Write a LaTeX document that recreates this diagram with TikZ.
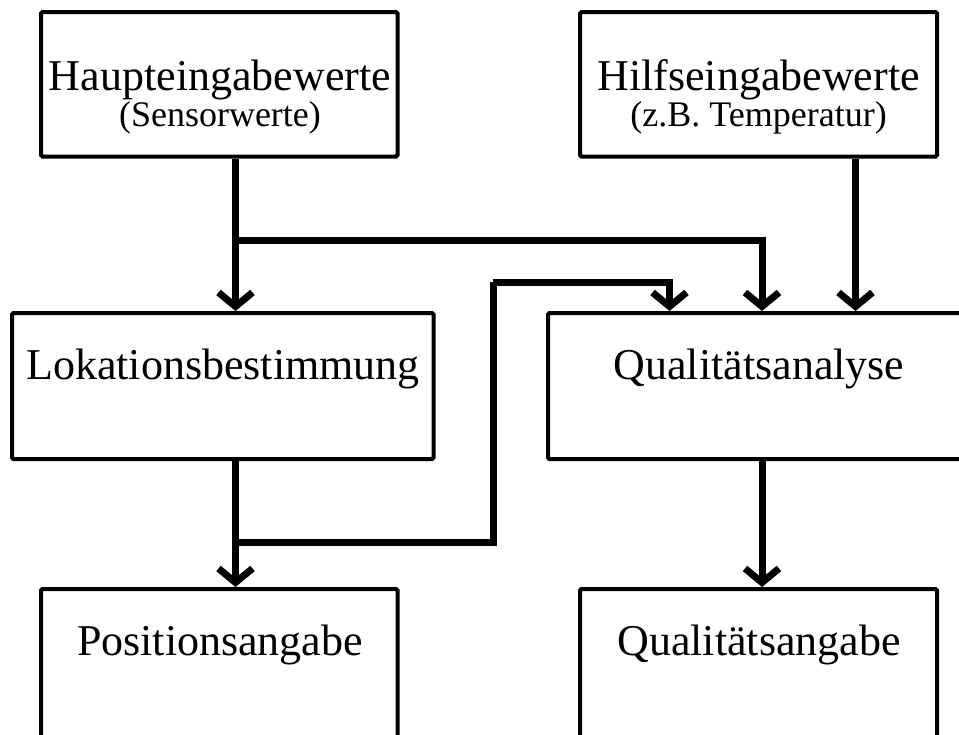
\documentclass[tikz,border=0pt]{standalone}
\usepackage{fontspec}
\setmainfont{Liberation Serif}
\usetikzlibrary{arrows.meta}
\begin{document}
\begin{tikzpicture}[x=1pt,y=-1pt,
  boxshape/.style={draw, line width=4pt, rounded corners=1.5pt, inner sep=0pt, rectangle},
  maintext/.style={font=\fontsize{44}{48}\selectfont, anchor=base, inner sep=0pt},
  subtext/.style={font=\fontsize{36}{40}\selectfont, anchor=base, inner sep=0pt},
  wire/.style={line width=7pt},
  conn/.style={line width=7pt, -{Straight Barb[length=14pt,width=34pt]}}]
\useasboundingbox (0,0) rectangle (959,734);
% boxes
\node[boxshape, minimum width=356.5pt, minimum height=144.5pt] (A) at (219.25,84.25) {};
\node[boxshape, minimum width=357pt, minimum height=144.5pt] (B) at (758.5,84.25) {};
\node[boxshape, minimum width=421.5pt, minimum height=146pt] (C) at (222.75,386) {};
\node[boxshape, minimum width=422pt, minimum height=146pt] (D) at (759,386) {};
\node[boxshape, minimum width=356.5pt, minimum height=191pt] (E) at (219.25,684.5) {};
\node[boxshape, minimum width=357pt, minimum height=191pt] (F) at (758.5,684.5) {};
% texts
\node[maintext] (At) at (220,90.7) {Haupteingabewerte};
\node[subtext] (As) at (220,126) {(Sensorwerte)};
\node[maintext] (Bt) at (758.5,90.7) {Hilfseingabewerte};
\node[subtext] (Bs) at (758.5,126) {(z.B. Temperatur)};
\node[maintext] (Ct) at (223,379) {Lokationsbestimmung};
\node[maintext] (Dt) at (759,379) {Qualitätsanalyse};
\node[maintext] (Et) at (220,655) {Positionsangabe};
\node[maintext] (Ft) at (759,655) {Qualitätsangabe};
% helper coordinates
\coordinate (xa) at (235.5,0);
\coordinate (xb) at (762,0);
\coordinate (xc) at (855.5,0);
\coordinate (xd) at (669.5,0);
\coordinate (j1) at (235.5,240.5);
\coordinate (j2) at (235.5,542);
\coordinate (k1) at (493,542);
\coordinate (k2) at (493,282);
% connectors
\draw[conn] (A.south -| xa) -- (C.north -| xa);
\draw[conn] (j1) -| (D.north -| xb);
\draw[conn] (B.south -| xc) -- (D.north -| xc);
\draw[conn] (C.south -| xa) -- (E.north -| xa);
\draw[wire] (j2) -- (k1) -- (k2);
\draw[conn] (k2) -| (D.north -| xd);
\draw[conn] (D.south -| xb) -- (F.north -| xb);
\end{tikzpicture}
\end{document}
